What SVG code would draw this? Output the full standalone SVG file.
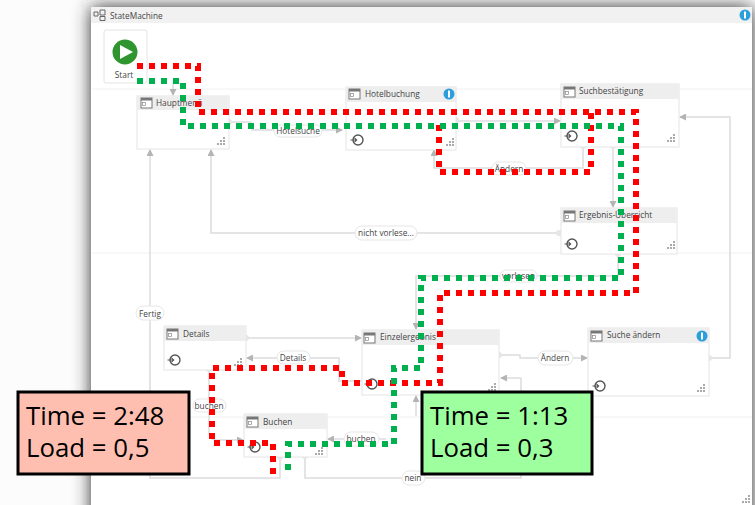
<svg xmlns="http://www.w3.org/2000/svg" width="755" height="505" viewBox="0 0 755 505">
<defs>
<filter id="bl" x="-20%" y="-20%" width="140%" height="140%"><feGaussianBlur stdDeviation="9"/></filter>
<filter id="soft" x="-5%" y="-5%" width="110%" height="110%"><feGaussianBlur stdDeviation="0.35"/></filter>
<marker id="a" markerWidth="7" markerHeight="7" refX="6" refY="3.5" orient="auto" markerUnits="userSpaceOnUse"><path d="M0 0L7 3.500L0 7Z" fill="#b4b4b4"/></marker>
<g id="ic"><rect x="0" y="0" width="11" height="10" fill="#fff" stroke="#777" stroke-width="1"/><rect x="0" y="0" width="11" height="2.500" fill="#777"/><rect x="1.500" y="4.500" width="3" height="3" fill="none" stroke="#888" stroke-width=".7"/></g>
<g id="en"><circle cx="0" cy="0" r="5" fill="#fff" stroke="#555" stroke-width="1.400"/><path d="M-7.500 0H-1.500M-3.500 -2.200L-1.300 0L-3.500 2.200" fill="none" stroke="#555" stroke-width="1.100"/></g>
<g id="gr"><path d="M7 0h2v2h-2zM4 3h2v2h-2zM7 3h2v2h-2zM1 6h2v2h-2zM4 6h2v2h-2zM7 6h2v2h-2z" fill="#aaa"/></g>
<g id="inf"><circle r="5.500" fill="#2a9fdc"/><rect x="-1" y="-3.500" width="2" height="7" fill="#fff"/></g>
</defs>
<style>
text{font-family:"Open Sans","Noto Sans","Liberation Sans",sans-serif;fill:#444}
.t{font-size:8.300px}
.l{font-size:8.300px;text-anchor:middle}
.n{fill:#fff;stroke:#e4e4e4;stroke-width:1}
.h{fill:#eeeeee}
.c{fill:none;stroke:#dcdce0;stroke-width:1.500}
.cm{marker-end:url(#a)}
.p{fill:#e6e6e6}
.lb{fill:#fff;stroke:#e6e6e6;stroke-width:1}
.sep{stroke:#f0f0f0;stroke-width:1}
.r{fill:none;stroke:#ff0000;stroke-width:6;stroke-dasharray:6 6}
.g{fill:none;stroke:#00b050;stroke-width:6;stroke-dasharray:6 6}
.box{stroke:#000;stroke-width:3}
.bt{font-size:25.800px;fill:#000}
.ms{fill:none;stroke:#666;stroke-width:1}
</style>
<rect width="755" height="505" fill="#fcfcfc"/>
<rect x="91" y="7" width="661" height="540" fill="#2e2e2e" filter="url(#bl)"/>
<rect x="91" y="7" width="661" height="498" fill="#fff"/>
<rect x="91" y="7" width="661" height="16" fill="#f1f1f1"/>
<g id="title"><path class="ms" d="M94 12h4v4h-4zM100 10h5v5h-5zM100 16.500h5v4h-5z"/><text x="110" y="18.500" class="t">StateMachine</text></g>
<use href="#inf" x="745" y="15"/>
<use href="#gr" x="741" y="495"/>
<path class="sep" d="M92 89H752M92 253H752M92 417H752"/>

<g id="connectors">
<path class="c cm" d="M173 83V95"/>
<path class="c cm" d="M229 122H250Q252 122 252 127V130H342"/>
<path class="c cm" d="M456 121H560"/>
<path class="c cm" d="M583 146V168H434V150"/>
<path class="c cm" d="M613 146V207"/>
<path class="c cm" d="M559 233H211V150"/>
<path class="c cm" d="M618 254V276H416V329"/>
<path class="c cm" d="M246 338H361"/>
<path class="c cm" d="M362 381H339V358H247"/>
<path class="c cm" d="M499 355H520V358H587"/>
<path class="c cm" d="M709 358H730V117H680"/>
<path class="c cm" d="M150 313V150"/>
<path class="c" d="M150 313V478H280V457"/>
<path class="c cm" d="M209 370V432Q209 440 217 440H243"/>
<path class="c cm" d="M386 439H328"/>
<path class="c" d="M305 456V478H521V378"/>
<path class="c cm" d="M521 378H501"/>
<path class="c cm" d="M416 416V396"/>
<circle class="p" cx="229" cy="122" r="3"/><circle class="p" cx="456" cy="120" r="3"/><circle class="p" cx="583" cy="146" r="3"/><circle class="p" cx="613" cy="146" r="3"/><circle class="p" cx="559" cy="233" r="3"/><circle class="p" cx="618" cy="254" r="3"/><circle class="p" cx="246" cy="338" r="3"/><circle class="p" cx="209" cy="369" r="3"/><circle class="p" cx="280" cy="457" r="3"/><circle class="p" cx="305" cy="456" r="3"/><circle class="p" cx="499" cy="355" r="3"/><circle class="p" cx="709" cy="358" r="3"/>
</g>

<g id="start"><rect class="n" x="104" y="30" width="43" height="53" rx="2"/><circle cx="125" cy="52" r="12.500" fill="#2f962f"/><path d="M120 45L133 52L120 59Z" fill="#fff"/><text x="124" y="78" class="l">Start</text></g>

<g id="hauptmenue"><rect class="n" x="137" y="96" width="92" height="53"/><rect class="h" x="137" y="96" width="92" height="14"/><use href="#ic" x="141" y="98"/><text x="156" y="106" class="t">Hauptmenü</text><use href="#gr" x="216" y="137"/></g>

<g id="hotelbuchung"><rect class="n" x="346" y="87" width="110" height="63"/><rect class="h" x="346" y="87" width="110" height="15"/><use href="#ic" x="349" y="89"/><text x="365" y="97" class="t">Hotelbuchung</text><use href="#inf" x="449" y="94"/><use href="#en" x="358" y="140"/><use href="#gr" x="445" y="138"/></g>

<g id="suchbestaetigung"><rect class="n" x="561" y="84" width="118" height="63"/><rect class="h" x="561" y="84" width="118" height="15"/><use href="#ic" x="564" y="87"/><text x="579" y="94" class="t">Suchbestätigung</text><use href="#en" x="572" y="136"/><use href="#gr" x="666" y="134"/></g>

<g id="ergebnis"><rect class="n" x="561" y="208" width="116" height="46"/><rect class="h" x="561" y="208" width="116" height="15"/><use href="#ic" x="564" y="211"/><text x="579" y="218" class="t">Ergebnis-Übersicht</text><use href="#en" x="572" y="244"/><use href="#gr" x="666" y="241"/></g>

<g id="details"><rect class="n" x="164" y="326" width="82" height="44"/><rect class="h" x="164" y="326" width="82" height="15"/><use href="#ic" x="167" y="329"/><text x="183" y="337" class="t">Details</text><use href="#en" x="175" y="360"/><use href="#gr" x="233" y="358"/></g>

<g id="einzelergebnis"><rect class="n" x="362" y="330" width="137" height="65"/><rect class="h" x="362" y="330" width="137" height="15"/><use href="#ic" x="364" y="333"/><text x="380" y="340" class="t">Einzelergebnis</text><use href="#en" x="372" y="384"/><use href="#gr" x="487" y="383"/></g>

<g id="sucheaendern"><rect class="n" x="588" y="328" width="121" height="68"/><rect class="h" x="588" y="328" width="121" height="15"/><use href="#ic" x="591" y="331"/><text x="607" y="338" class="t">Suche ändern</text><use href="#inf" x="702" y="336"/><use href="#en" x="600" y="386"/><use href="#gr" x="696" y="384"/></g>

<g id="buchen"><rect class="n" x="244" y="414" width="83" height="43"/><rect class="h" x="244" y="414" width="83" height="15"/><use href="#ic" x="247" y="417"/><text x="263" y="425" class="t">Buchen</text><use href="#en" x="255" y="447"/><use href="#gr" x="314" y="447"/></g>

<g id="labels">
<rect class="lb" x="274" y="125" width="48" height="12" rx="6"/><text x="298" y="134" class="l">Hotelsuche</text>
<rect class="lb" x="492" y="162" width="34" height="13" rx="6.500"/><text x="509" y="171.500" class="l">Ändern</text>
<rect class="lb" x="355" y="226" width="62" height="14" rx="7"/><text x="386" y="236" class="l">nicht vorlese...</text>
<rect class="lb" x="500" y="270" width="37" height="12" rx="6"/><text x="518.500" y="279" class="l">vorlesen</text>
<rect class="lb" x="136" y="306" width="28" height="14" rx="7"/><text x="150" y="316.500" class="l">Fertig</text>
<rect class="lb" x="277" y="351" width="33" height="13" rx="6.500"/><text x="293" y="361" class="l">Details</text>
<rect class="lb" x="538" y="351" width="35" height="14" rx="7"/><text x="555" y="361" class="l">Ändern</text>
<rect class="lb" x="193" y="399" width="33" height="13" rx="6.500"/><text x="209" y="408.500" class="l">buchen</text>
<rect class="lb" x="344" y="432" width="35" height="14" rx="7"/><text x="361" y="442" class="l">buchen</text>
<rect class="lb" x="402" y="471" width="23" height="14" rx="7"/><text x="413" y="481" class="l">nein</text>
</g>

<g id="routes" filter="url(#soft)">
<path class="r" d="M137 66H198V112H636V293H440V383H342V368H212V443H273V475"/>
<path class="r" d="M591 113V172H439V120"/>
<path class="g" d="M137 81H183V126H621V278H421V368H394V444H288V475"/>
</g>

<g id="time-red"><rect class="box" x="18" y="392" width="171" height="82" fill="#ffbfb0"/><text x="26" y="425" class="bt">Time = 2:48</text><text x="26" y="457" class="bt">Load = 0,5</text></g>
<g id="time-green"><rect class="box" x="422" y="392" width="170" height="82" fill="#9dff9d"/><text x="430" y="425" class="bt">Time = 1:13</text><text x="430" y="457" class="bt">Load = 0,3</text></g>
</svg>
